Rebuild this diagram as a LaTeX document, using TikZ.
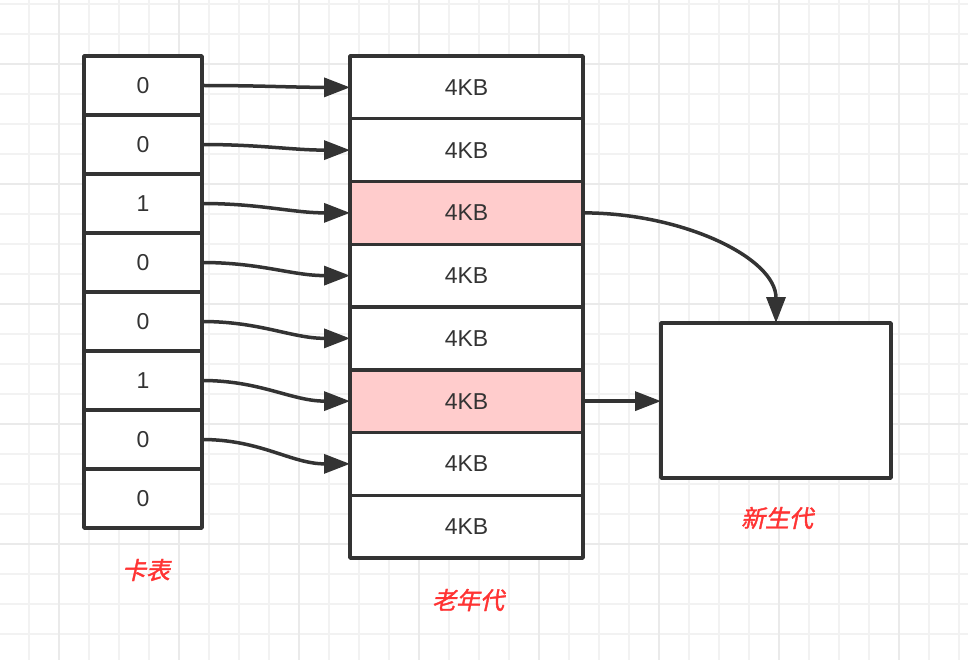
\documentclass[tikz,border=0pt]{standalone}
\usepackage{fontspec}
\setmainfont{Liberation Sans}
\newfontfamily\cjk[FakeSlant=0.22,FakeBold=1.5]{Noto Sans CJK SC}
\usetikzlibrary{arrows.meta}
\definecolor{ink}{HTML}{333333}
\definecolor{rowpink}{HTML}{FFCCCC}
\definecolor{labelred}{HTML}{FF3333}
\definecolor{gridminor}{HTML}{F2F2F2}
\definecolor{gridmajor}{HTML}{EAEAEA}
\begin{document}
\begin{tikzpicture}[x=1pt,y=-1pt,line join=round,line cap=round,
	>={Triangle[length=26pt,width=19pt]},
	cell/.style={draw=ink,line width=3.5pt,fill=white,inner sep=0pt,outer sep=0pt,text=ink,font=\fontsize{23}{27}\selectfont},
	cardcell/.style={cell,minimum width=118pt,minimum height=59pt},
	oldcell/.style={cell,minimum width=233pt,minimum height=62.75pt},
	conn/.style={draw=ink,line width=3.5pt,->},
	tag/.style={text=labelred,font=\cjk\fontsize{24}{28}\selectfont}]
	\useasboundingbox (0,0) rectangle (968,660);
	\fill[white] (0,0) rectangle (968,660);
	% grid
	\foreach \gx in {29,59,...,959}
	\draw[gridminor,line width=1.2pt] (\gx,0)--(\gx,660);
	\foreach \gy in {4,34,...,634}
	\draw[gridminor,line width=1.2pt] (0,\gy)--(968,\gy);
	\foreach \gx in {59,179,...,899}
	\draw[gridmajor,line width=1.4pt] (\gx,0)--(\gx,660);
	\foreach \gy in {64,184,...,544}
	\draw[gridmajor,line width=1.4pt] (0,\gy)--(968,\gy);
	% card table and old generation
	\foreach \v [count=\i] in {0,0,1,0,0,1,0,0}
	\node[cardcell] (card\i) at (143,{85.5+59*(\i-1)}) {\v};
	\foreach \c [count=\i] in {white,white,rowpink,white,white,rowpink,white,white}
	\node[oldcell,fill=\c] (old\i) at (466.5,{87.375+62.75*(\i-1)}) {4KB};
	\node[cell,minimum width=230pt,minimum height=155pt] (young) at (776,400.5) {};
	% connectors
	\foreach \i in {1,...,7}
	\draw[conn] (card\i.east) to[out=0,in=180] (old\i.west);
	\draw[conn] (old3.east) .. controls +(100,0) and +(0,-65) .. (young.north);
	\draw[conn] (old6.east) -- (old6.east -| young.west);
	% labels
	\node[tag] (cardtag) at (146,570) {卡表};
	\node[tag] (oldtag) at (468,600) {老年代};
	\node[tag] (youngtag) at (777,518) {新生代};
\end{tikzpicture}
\end{document}
